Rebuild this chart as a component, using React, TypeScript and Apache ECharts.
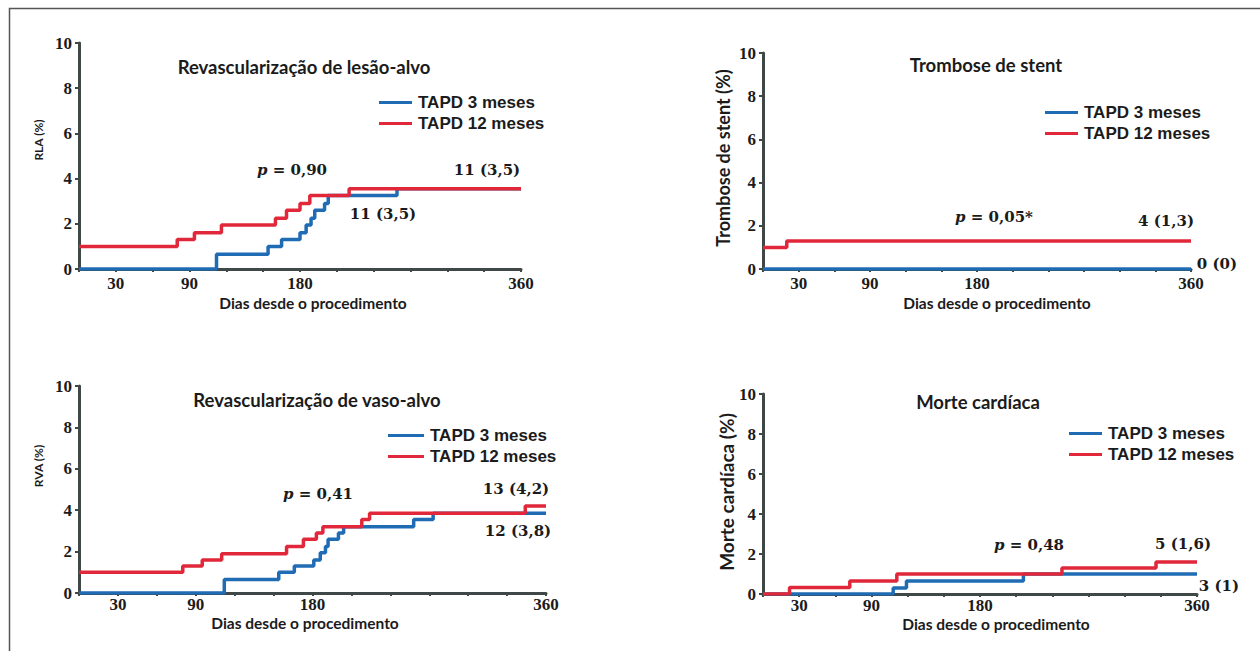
import React, { useEffect, useRef } from "react";
import * as echarts from "echarts";

// ---------- data ----------
const SERIES_NAMES = ["TAPD 3 meses", "TAPD 12 meses"];
const SERIES_COLORS = ["#1f6cb4", "#e1283b"];
const X_LABELED_DAYS = [30, 90, 180, 360];
const X_AXIS_TITLE = "Dias desde o procedimento";

const PANEL_TITLES = [
  "Revascularização de lesão-alvo",
  "Trombose de stent",
  "Revascularização de vaso-alvo",
  "Morte cardíaca",
];
const Y_AXIS_TITLES = ["RLA (%)", "Trombose de stent (%)", "RVA (%)", "Morte cardíaca (%)"];
const P_VALUES = ["0,90", "0,05*", "0,41", "0,48"];
const END_LABELS_12M = ["11 (3,5)", "4 (1,3)", "13 (4,2)", "5 (1,6)"];
const END_LABELS_3M = ["11 (3,5)", "0 (0)", "12 (3,8)", "3 (1)"];

// [day, cumulative %]
const RLA_3M = [[0, 0], [112, 0.65], [154, 1.0], [165, 1.3], [180, 1.6], [185, 1.95], [189, 2.25], [192, 2.6], [200, 2.9], [203, 3.25], [259, 3.55], [360, 3.55]];
const RLA_12M = [[0, 1.0], [80, 1.3], [94, 1.6], [116, 1.95], [160, 2.25], [169, 2.6], [180, 2.9], [188, 3.25], [220, 3.55], [360, 3.55]];
const TS_3M = [[0, 0], [360, 0]];
const TS_12M = [[0, 1.0], [20, 1.3], [360, 1.3]];
const RVA_3M = [[0, 0], [112, 0.65], [154, 1.0], [166, 1.3], [181, 1.6], [186, 1.95], [190, 2.25], [192, 2.6], [200, 2.9], [204, 3.2], [258, 3.55], [273, 3.85], [360, 3.85]];
const RVA_12M = [[0, 1.0], [80, 1.3], [95, 1.6], [110, 1.9], [160, 2.25], [173, 2.6], [183, 2.9], [188, 3.2], [218, 3.55], [224, 3.85], [344, 4.2], [360, 4.2]];
const MC_3M = [[0, 0], [108, 0.3], [119, 0.65], [216, 1.0], [360, 1.0]];
const MC_12M = [[0, 0], [22, 0.33], [72, 0.65], [111, 1.0], [248, 1.3], [326, 1.6], [360, 1.6]];

const PANEL_DATA = [
  [RLA_3M, RLA_12M],
  [TS_3M, TS_12M],
  [RVA_3M, RVA_12M],
  [MC_3M, MC_12M],
];

// ---------- layout ----------
const GRIDS = [
  { left: 79, top: 43, width: 442, height: 226 },
  { left: 763, top: 53, width: 428, height: 216 },
  { left: 79, top: 386, width: 467, height: 207 },
  { left: 763, top: 394, width: 434, height: 200 },
];
const X_LABEL_MARGIN = [6, 6, 3, 3];
const LEGENDS = [
  { left: 374, top: 89, itemWidth: 33, itemGap: 4 },
  { left: 1040, top: 99, itemWidth: 33, itemGap: 4 },
  { left: 383, top: 422, itemWidth: 36, itemGap: 4 },
  { left: 1064, top: 420, itemWidth: 33, itemGap: 4 },
];
const TITLE_POS = [[304, 67], [986, 65], [317, 400], [978, 402]];
const YNAME_POS = [[38, 140, 12], [723, 158, 18], [38, 466, 12], [726, 492, 19]];
const XNAME_POS = [[313, 303], [997, 303], [305, 623], [996, 624]];
const P_POS = [[292, 170], [994, 217], [318, 494], [1029, 545]];
const END12_POS = [[487, 170], [1166, 221], [516, 489], [1183, 544]];
const END3_POS = [[383, 214], [1217, 264], [518, 531], [1219, 586]];

const AXIS_COLOR = "#3f4747";
const TEXT_COLOR = "#1b1b1b";
const SANS = "Lato";
const SERIF = "DejaVu Serif";

export default function App() {
  const ref = useRef<HTMLDivElement>(null);

  useEffect(() => {
    if (!ref.current) return;
    const chart = echarts.init(ref.current, undefined, { renderer: "svg" });

    const xAxis = GRIDS.map((_, i) => ({
      type: "value",
      gridIndex: i,
      min: 0,
      max: 360,
      interval: 30,
      splitLine: { show: false },
      axisLine: { show: true, lineStyle: { color: AXIS_COLOR, width: 3 } },
      axisTick: { show: true, length: 3, lineStyle: { color: AXIS_COLOR, width: 2 } },
      axisLabel: {
        margin: X_LABEL_MARGIN[i],
        color: TEXT_COLOR,
        fontFamily: "Liberation Serif",
        fontWeight: "bold",
        fontSize: 17,
        formatter: (v: number) => (X_LABELED_DAYS.includes(v) ? String(v) : ""),
      },
    }));
    const yAxis = GRIDS.map((_, i) => ({
      type: "value",
      gridIndex: i,
      min: 0,
      max: 10,
      interval: 2,
      splitLine: { show: false },
      axisLine: { show: true, lineStyle: { color: AXIS_COLOR, width: 3 } },
      axisTick: { show: true, length: 4, lineStyle: { color: AXIS_COLOR, width: 2 } },
      axisLabel: {
        margin: 7,
        color: TEXT_COLOR,
        fontFamily: "Liberation Serif",
        fontWeight: "bold",
        fontSize: 17,
      },
    }));

    const series: any[] = [];
    PANEL_DATA.forEach((pair, i) => {
      pair.forEach((data, k) => {
        series.push({
          type: "line",
          name: SERIES_NAMES[k],
          xAxisIndex: i,
          yAxisIndex: i,
          step: "end",
          symbol: "none",
          data,
          z: 2 + k,
          color: SERIES_COLORS[k],
          lineStyle: { color: SERIES_COLORS[k], width: 3.5 },
        });
      });
    });

    const legend = LEGENDS.map((l) => ({
      left: l.left,
      top: l.top,
      orient: "vertical",
      icon: "rect",
      itemWidth: l.itemWidth,
      itemHeight: 3,
      itemGap: l.itemGap,
      selectedMode: false,
      data: SERIES_NAMES,
      textStyle: {
        fontFamily: "Liberation Sans",
        fontWeight: "bold",
        fontSize: 17,
        color: TEXT_COLOR,
        padding: [0, 0, 0, 1],
      },
    }));

    const graphic: any[] = [
      {
        type: "polyline",
        shape: { points: [[9.5, 651], [9.5, 8.5], [1260, 8.5]] },
        style: { stroke: "#555", lineWidth: 1.5, fill: null },
      },
    ];
    PANEL_TITLES.forEach((t, i) => {
      graphic.push({
        type: "text",
        x: TITLE_POS[i][0],
        y: TITLE_POS[i][1],
        style: {
          text: t,
          fill: TEXT_COLOR,
          font: `bold 18.5px ${SANS}`,
          textAlign: "center",
          textVerticalAlign: "middle",
        },
      });
      graphic.push({
        type: "text",
        x: XNAME_POS[i][0],
        y: XNAME_POS[i][1],
        style: {
          text: X_AXIS_TITLE,
          fill: TEXT_COLOR,
          font: `bold 15.5px ${SANS}`,
          textAlign: "center",
          textVerticalAlign: "middle",
        },
      });
      graphic.push({
        type: "text",
        x: YNAME_POS[i][0],
        y: YNAME_POS[i][1],
        rotation: Math.PI / 2,
        style: {
          text: Y_AXIS_TITLES[i],
          fill: TEXT_COLOR,
          font: `bold ${YNAME_POS[i][2]}px ${SANS}`,
          textAlign: "center",
          textVerticalAlign: "middle",
        },
      });
      graphic.push({
        type: "text",
        x: P_POS[i][0],
        y: P_POS[i][1],
        style: {
          text: `{i|p}{n| = ${P_VALUES[i]}}`,
          fill: TEXT_COLOR,
          textAlign: "center",
          textVerticalAlign: "middle",
          rich: {
            i: { fontFamily: SERIF, fontWeight: "bold", fontStyle: "italic", fontSize: 15, fill: TEXT_COLOR },
            n: { fontFamily: SERIF, fontWeight: "bold", fontSize: 15, fill: TEXT_COLOR },
          },
        },
      });
      graphic.push({
        type: "text",
        x: END12_POS[i][0],
        y: END12_POS[i][1],
        style: {
          text: END_LABELS_12M[i],
          fill: TEXT_COLOR,
          font: `bold 15px ${SERIF}`,
          textAlign: "center",
          textVerticalAlign: "middle",
        },
      });
      graphic.push({
        type: "text",
        x: END3_POS[i][0],
        y: END3_POS[i][1],
        style: {
          text: END_LABELS_3M[i],
          fill: TEXT_COLOR,
          font: `bold 15px ${SERIF}`,
          textAlign: "center",
          textVerticalAlign: "middle",
        },
      });
    });

    chart.setOption({
      animation: false,
      backgroundColor: "#ffffff",
      grid: GRIDS.map((g) => ({ ...g, containLabel: false })),
      xAxis,
      yAxis,
      legend,
      series,
      graphic,
    });

    return () => chart.dispose();
  }, []);

  return (
    <div
      ref={ref}
      style={{ position: "fixed", left: 0, top: 0, width: 1260, height: 651, background: "#fff" }}
    />
  );
}
